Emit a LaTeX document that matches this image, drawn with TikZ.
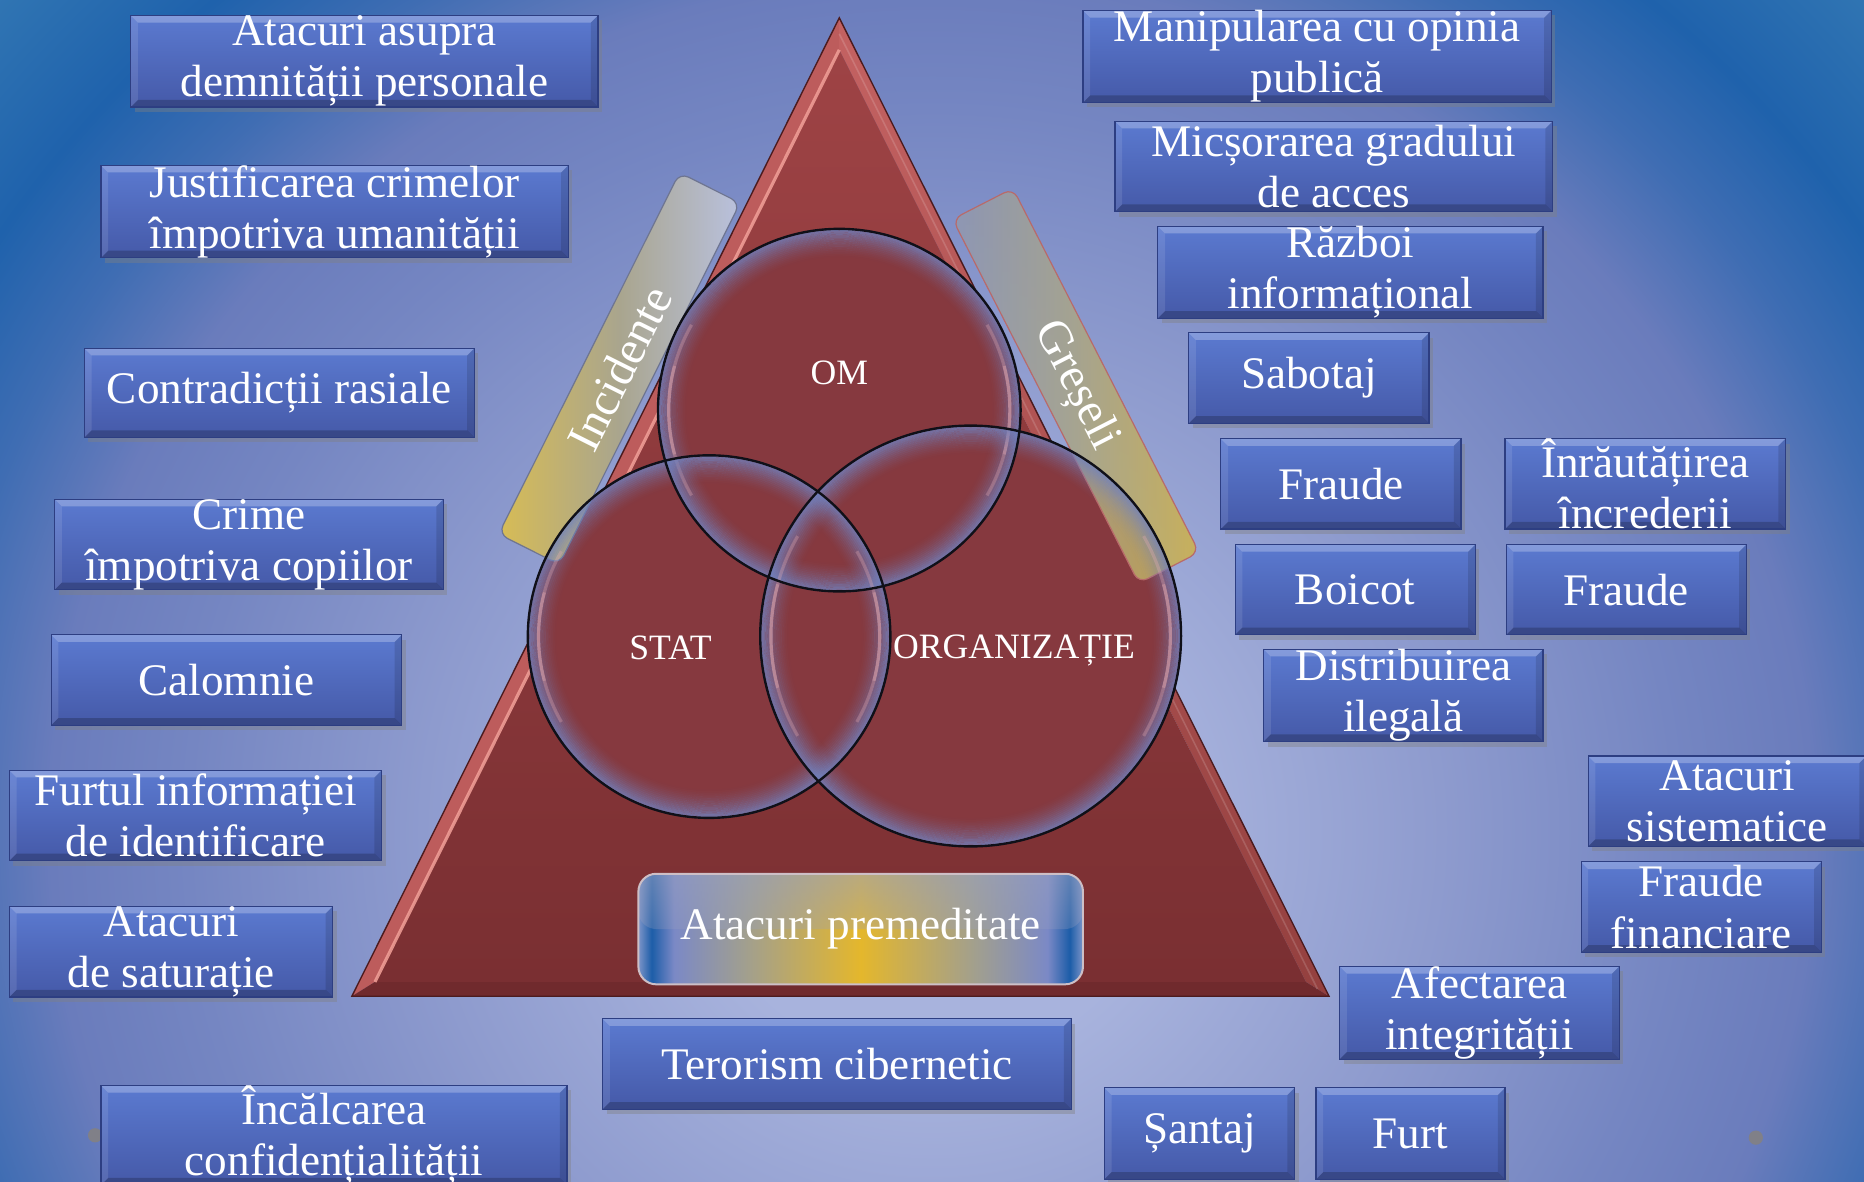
\documentclass[tikz,border=0pt]{standalone}
\usepackage{fontspec}
\setmainfont{Liberation Serif}
\usetikzlibrary{shadows,fadings,calc}

\definecolor{bgA}{HTML}{A8B3DD}
\definecolor{bgB}{HTML}{8E9BCE}
\definecolor{bgC}{HTML}{7586C2}
\definecolor{bgD}{HTML}{6A7CBC}
\definecolor{bgE}{HTML}{3F6DB3}
\definecolor{bgF}{HTML}{1F62AC}
\definecolor{bgG}{HTML}{3378B4}
\definecolor{triTop}{HTML}{9E4345}
\definecolor{triBot}{HTML}{7A2F32}
\definecolor{facetL}{HTML}{BD5C5C}
\definecolor{facetLhi}{HTML}{F2A098}
\definecolor{facetRt}{HTML}{C46262}
\definecolor{facetRb}{HTML}{94403F}
\definecolor{facetB}{HTML}{702A2D}
\definecolor{triEdge}{HTML}{4C1B1E}
\definecolor{circFill}{HTML}{86393F}
\definecolor{rimc}{HTML}{7082C0}
\definecolor{circEdge}{HTML}{101018}
\definecolor{hilite}{HTML}{EBB0B5}
\definecolor{goldI}{HTML}{D7BC55}
\definecolor{silverI}{HTML}{B9C1DE}
\definecolor{midI}{HTML}{A9A58E}
\definecolor{edgeI}{HTML}{6E7591}
\definecolor{topG}{HTML}{8F97B2}
\definecolor{midG}{HTML}{A9A588}
\definecolor{botG}{HTML}{CFB24A}
\definecolor{edgeG}{HTML}{B86A6A}
\definecolor{pe}{HTML}{7C94C8}
\definecolor{pb}{HTML}{1C5DA8}
\definecolor{pl}{HTML}{7B89C6}
\definecolor{pg}{HTML}{A19F8F}
\definecolor{py}{HTML}{E4B72C}
\definecolor{premEdge}{HTML}{CDBFC6}
\definecolor{premTop}{HTML}{98A0C0}
\definecolor{boxtop}{HTML}{5B7AD0}
\definecolor{boxbot}{HTML}{4559A8}
\definecolor{boxedge}{HTML}{2D3E82}
\definecolor{dotgray}{HTML}{808088}

\pgfdeclareradialshading{bgshade}{\pgfpoint{0bp}{0bp}}{color(0bp)=(bgA); color(6bp)=(bgA); color(13bp)=(bgB); color(19bp)=(bgC); color(22.5bp)=(bgD); color(25.5bp)=(bgE); color(28.5bp)=(bgF); color(33bp)=(bgG); color(50bp)=(bgG)}
\pgfdeclarehorizontalshading{premshade}{100bp}{color(0bp)=(pe); color(25bp)=(pe); color(26.5bp)=(pb); color(29bp)=(pl); color(37bp)=(pg); color(50bp)=(py); color(63bp)=(pg); color(71bp)=(pl); color(73.5bp)=(pb); color(75bp)=(pe); color(100bp)=(pe)}

\newcommand\boxfont{\fontsize{22.8}{25.8}\selectfont}
\newcommand\mkbox[6]{\node[bbox, minimum width={#4*0.6pt}, minimum height={#5*0.6pt}] (#1) at (#2,#3) {#6};}

\begin{document}
\begin{tikzpicture}[x=0.6pt, y=-0.6pt,
  bbox/.style={draw=boxedge, line width=0.6pt, top color=boxtop, bottom color=boxbot,
    text=white, align=center, font=\boxfont, inner sep=0pt,
    drop shadow={shadow xshift=2pt, shadow yshift=-2.5pt, opacity=0.4},
    path picture={
      \coordinate (p1) at (path picture bounding box.north west);
      \coordinate (p2) at (path picture bounding box.north east);
      \coordinate (p3) at (path picture bounding box.south east);
      \coordinate (p4) at (path picture bounding box.south west);
      \fill[white, fill opacity=0.25] (p1) -- (p2) -- ([shift={(-6,6)}]p2) -- ([shift={(6,6)}]p1) -- cycle;
      \fill[black, fill opacity=0.12] (p2) -- (p3) -- ([shift={(-6,-6)}]p3) -- ([shift={(-6,6)}]p2) -- cycle;
      \fill[black, fill opacity=0.2] (p3) -- (p4) -- ([shift={(6,-6)}]p4) -- ([shift={(-6,-6)}]p3) -- cycle;
      \fill[white, fill opacity=0.1] (p4) -- (p1) -- ([shift={(6,6)}]p1) -- ([shift={(6,-6)}]p4) -- cycle;
    }},
  bandI/.style={draw=edgeI, line width=0.6pt, rounded corners=5pt, left color=goldI, right color=silverI, middle color=midI, inner sep=0pt},
  bandG/.style={draw=edgeG, line width=0.6pt, rounded corners=5pt, left color=topG, right color=botG, middle color=midG,
    fill opacity=0.88, inner sep=0pt},
  bandtext/.style={text=white, font=\fontsize{24}{28}\selectfont, inner sep=0pt},
  clbl/.style={text=white, font=\fontsize{18}{21}\selectfont, inner sep=0pt},
  premstyle/.style={shade, shading=premshade, draw=premEdge, line width=1pt, rounded corners=9pt,
    text=white, font=\boxfont, inner sep=0pt,
    path picture={\fill[premTop, fill opacity=0.55, path fading=south]
      (path picture bounding box.north west) rectangle (path picture bounding box.east);}},
]
\useasboundingbox (0,0) rectangle (1568,994);
\clip (0,0) rectangle (1568,994);
\shade[shading=bgshade] (-40,-100) rectangle (1608,1500);

% slide dots
\fill[dotgray] (80,955) circle (6);
\fill[dotgray] (1477,957) circle (6);

% boxes left
\mkbox{b1}{306.5}{51.5}{393}{77}{Atacuri asupra\\demnității personale}
\mkbox{b2}{281.5}{178}{393}{76}{Justificarea crimelor\\împotriva umanității}
\mkbox{b3}{235}{330.5}{328}{75}{Contradicții rasiale}
\mkbox{b4}{209.5}{458}{327}{76}{Crime\\împotriva copiilor}
\mkbox{b5}{190.5}{572}{295}{76}{Calomnie}
\mkbox{b6}{164.5}{686}{313}{76}{Furtul informației\\de identificare}
\mkbox{b7}{144}{800.5}{272}{75}{Atacuri\\de saturație}
\mkbox{b8}{281}{955}{392}{80}{Încălcarea\\confidențialității}
\mkbox{b9}{704}{895}{394}{76}{Terorism cibernetic}
% boxes right
\mkbox{r1}{1108}{47.5}{394}{75}{Manipularea cu opinia\\publică}
\mkbox{r2}{1122}{140}{368}{76}{Micșorarea gradului\\de acces}
\mkbox{r3}{1136}{229}{324}{76}{Război\\informațional}
\mkbox{r4}{1101}{318}{202}{76}{Sabotaj}
\mkbox{r5}{1128}{407}{202}{76}{Fraude}
\mkbox{r6}{1384}{407}{236}{76}{Înrăutățirea\\încrederii}
\mkbox{r7}{1140}{496}{202}{76}{Boicot}
\mkbox{r8}{1368}{496}{202}{76}{Fraude}
\mkbox{r9}{1180.5}{585}{235}{76}{Distribuirea\\ilegală}
\mkbox{r10}{1453}{674}{234}{76}{Atacuri\\sistematice}
\mkbox{r11}{1431}{763}{202}{76}{Fraude\\financiare}
\mkbox{r12}{1244.5}{852}{235}{76}{Afectarea\\integrității}
\mkbox{r13}{1009}{953.5}{160}{77}{Șantaj}
\mkbox{r14}{1186.5}{953.5}{159}{77}{Furt}

% triangle
\coordinate (tA) at (706,15);
\coordinate (tB) at (296,838);
\coordinate (tC) at (1118,838);
\coordinate (iA) at (706,41.9);
\coordinate (iB) at (315.4,826);
\coordinate (iC) at (1098.6,826);
\fill[facetL] (tA) -- (tB) -- (iB) -- (iA) -- cycle;
\shade[top color=facetRt, bottom color=facetRb] (tA) -- (tC) -- (iC) -- (iA) -- cycle;
\fill[facetB] (tB) -- (tC) -- (iC) -- (iB) -- cycle;
\shade[top color=triTop, bottom color=triBot] (iA) -- (iB) -- (iC) -- cycle;
\draw[facetLhi, line width=1.6pt, draw opacity=0.85] (iA) -- (iB);
\draw[white, line width=0.8pt, draw opacity=0.15] ($(tA)!0.5!(iA)$) -- ($(tC)!0.5!(iC)$);
\draw[triEdge, line width=0.7pt, line join=miter] (tA) -- (tB) -- (tC) -- cycle;

% circles: fills
\coordinate (cOM) at (706,345);
\coordinate (cST) at (596.5,535.5);
\coordinate (cOR) at (816.5,535);
\fill[circFill] (cOM) circle (152.5);
\fill[circFill] (cST) circle (152.5);
\fill[circFill] (cOR) circle (177);

% side bands
\node[bandI, rotate=63.4, minimum width={340*0.6pt}, minimum height={57*0.6pt}] (inc) at (521,310) {};
\node[bandG, rotate=-62.9, minimum width={344*0.6pt}, minimum height={57*0.6pt}] (gre) at (905,324.5) {};

% circle rims, highlights, outlines
\foreach \cx/\cy/\r in {706/345/152.5, 596.5/535.5/152.5, 816.5/535/177}{
  \foreach \k in {0,...,15}{
    \pgfmathsetmacro\op{0.8*(1-\k/16)^1.6}
    \pgfmathsetmacro\rk{\r-0.8-\k*1.5}
    \draw[rimc, line width=0.95pt, draw opacity=\op] (\cx,\cy) circle (\rk);
  }
  \pgfmathsetmacro\rh{\r-9}
  \draw[hilite, line width=1.6pt, draw opacity=0.3] (\cx,\cy) ++(150:\rh) arc[start angle=150, end angle=210, radius=\rh];
  \draw[hilite, line width=1.6pt, draw opacity=0.35] (\cx,\cy) ++(165:\rh) arc[start angle=165, end angle=195, radius=\rh];
  \draw[hilite, line width=1.6pt, draw opacity=0.3] (\cx,\cy) ++(-30:\rh) arc[start angle=-30, end angle=30, radius=\rh];
  \draw[hilite, line width=1.6pt, draw opacity=0.35] (\cx,\cy) ++(-15:\rh) arc[start angle=-15, end angle=15, radius=\rh];
}
\draw[circEdge, line width=1.2pt] (cOM) circle (152.5);
\draw[circEdge, line width=1.2pt] (cST) circle (152.5);
\draw[circEdge, line width=1.2pt] (cOR) circle (177);

% band labels
\node[bandtext, rotate=63.4] (incT) at (inc.center) {Incidente};
\node[bandtext, rotate=-62.9] (greT) at (gre.center) {Greșeli};

% circle labels
\node[clbl] (lOM) at (706,314) {OM};
\node[clbl] (lST) at (564,545) {STAT};
\node[clbl] (lOR) at (853,547) {ORGANIZAȚIE};

% bottom label in triangle
\node[premstyle, minimum width={374*0.6pt}, minimum height={93*0.6pt}] (prem) at (724,781.5) {Atacuri premeditate};
\end{tikzpicture}
\end{document}
